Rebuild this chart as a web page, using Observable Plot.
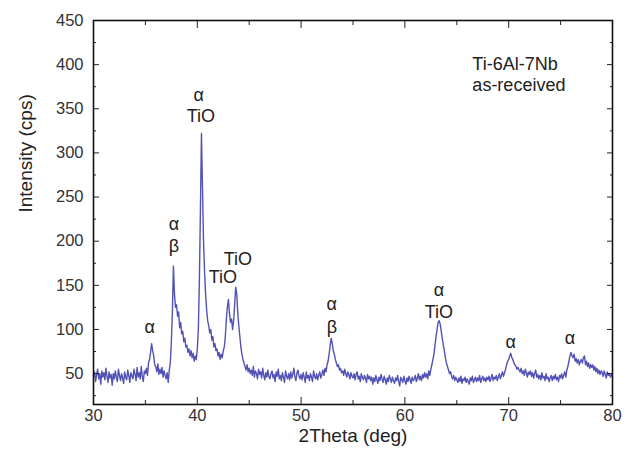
<!DOCTYPE html>
<html><head><meta charset="utf-8">
<script src="https://cdn.jsdelivr.net/npm/d3@7"></script>
<script src="https://cdn.jsdelivr.net/npm/@observablehq/plot@0.6"></script>
<style>body{margin:0;background:#fff;}</style>
</head><body><div id="chart"></div>
<script>
const thetaStart = 30, thetaStep = 0.1;
const intensity = [
47,52,41,49,55,44,50,38,53,46,
51,43,56,47,40,52,45,49,37,50,
44,53,46,41,55,48,42,50,45,39,
52,46,43,54,48,40,51,47,44,55,
49,42,57,46,51,44,58,47,41,53,
50,56,48,62,66,74,84,76,70,60,
58,52,61,49,55,50,57,46,53,48,
44,51,40,54,62,86,120,172,140,125,
128,115,120,102,108,95,98,86,90,80,
82,74,78,70,76,68,73,64,70,66,
78,100,155,235,322,260,200,165,140,122,
110,104,96,100,88,92,80,84,76,78,
70,74,66,72,68,76,80,92,112,126,
134,118,108,112,100,110,128,148,140,118,
104,92,80,72,66,62,58,54,60,52,
56,50,54,48,58,46,53,50,44,55,
49,52,45,56,48,43,51,46,54,47,
44,50,53,45,49,41,52,47,55,44,
48,42,51,46,40,53,47,44,50,43,
52,45,49,56,46,42,51,54,47,44,
49,43,51,46,40,52,45,48,42,50,
46,41,53,47,44,50,43,48,52,45,
49,54,48,56,52,60,64,72,82,90,
84,76,72,66,62,58,60,54,56,51,
53,48,55,50,46,52,49,44,51,47,
45,50,43,49,52,44,47,41,50,46,
43,48,45,40,49,44,47,42,46,38,
45,41,48,43,39,46,42,49,44,40,
47,43,38,45,41,48,44,40,46,42,
39,45,42,48,41,36,46,43,40,47,
42,38,45,41,47,43,39,46,42,44,
48,41,45,50,43,47,42,49,45,51,
46,50,44,53,48,55,60,66,72,82,
92,100,108,110,106,98,90,82,76,68,
62,58,54,50,52,47,44,48,42,46,
43,40,45,41,47,39,44,42,46,40,
44,41,38,45,42,47,40,43,46,41,
45,42,48,40,44,47,42,45,41,46,
43,47,41,45,49,42,46,44,48,42,
46,50,44,48,52,47,51,55,60,64,
66,70,73,68,66,62,60,58,55,57,
54,52,56,50,53,48,55,51,46,52,
49,53,47,51,45,50,54,46,49,44,
48,43,51,45,47,42,50,44,46,41,
45,48,42,47,44,49,43,46,41,48,
45,50,44,48,52,46,54,58,64,70,
74,70,68,72,64,67,62,66,60,64,
66,62,68,70,60,64,58,62,56,60,
57,60,54,58,52,56,50,54,49,53,
51,47,53,49,45,52,48,50,46,49,
47
];
const xMajor = [30,40,50,60,70,80];
const xMinor = [35,45,55,65,75];
const yMajor = [50,100,150,200,250,300,350,400,450];
const yMinor = [25,75,125,175,225,275,325,375,425];
const xTitle = ["2Theta (deg)"];
const yTitle = ["Intensity (cps)"];
const peakText = ["α","α","β","α","TiO","TiO","TiO","α","β","α","TiO","α","α"];
const peakX =    [35.42,37.74,37.74,40.14,40.34,43.9,42.46,52.96,52.96,63.27,63.27,70.2,75.9];
const peakY =    [102,219,194,365,341,180,159,129,102,144,120,86,90];
const noteText = ["Ti-6Al-7Nb","as-received"];
const noteX = [66.5,66.5];
const noteY = [401,377];

const data = intensity.map((v,i)=>({t: +(thetaStart + i*thetaStep).toFixed(2), v}));
const peaks = peakText.map((s,i)=>({s, x: peakX[i], y: peakY[i]}));
const notes = noteText.map((s,i)=>({s, x: noteX[i], y: noteY[i]}));

const font = "'Liberation Sans', Arial, sans-serif";
const chart = Plot.plot({
  width: 630, height: 458,
  marginLeft: 93, marginRight: 18, marginTop: 20, marginBottom: 54,
  style: {fontFamily: font, background: "#fff", color: "#222"},
  x: {domain: [30, 80]},
  y: {domain: [15, 450]},
  marks: [
    Plot.line(data, {x: "t", y: "v", stroke: "#3f3fae", strokeWidth: 1.4, strokeOpacity: 0.9}),
    Plot.axisX({ticks: xMajor, tickSize: -7, tickFormat: () => "", label: null}),
    Plot.axisX({ticks: xMinor, tickSize: -4, tickFormat: () => "", label: null}),
    Plot.axisX({anchor: "top", ticks: xMajor, tickSize: -7, tickFormat: () => "", label: null}),
    Plot.axisX({anchor: "top", ticks: xMinor, tickSize: -4, tickFormat: () => "", label: null}),
    Plot.axisY({ticks: yMajor, tickSize: -6, tickFormat: () => "", label: null}),
    Plot.axisY({ticks: yMinor, tickSize: -3, tickFormat: () => "", label: null}),
    Plot.axisY({anchor: "right", ticks: yMajor, tickSize: -6, tickFormat: () => "", label: null}),
    Plot.axisY({anchor: "right", ticks: yMinor, tickSize: -3, tickFormat: () => "", label: null}),
    Plot.frame({stroke: "#111", strokeWidth: 1.6}),
    Plot.text(xMajor, {x: d => d, text: d => String(d), frameAnchor: "bottom", dy: 16, fontSize: 16.5, fill: "#333"}),
    Plot.text(yMajor, {y: d => d, text: d => String(d), frameAnchor: "left", dx: -10, textAnchor: "end", fontSize: 16.5, fill: "#333"}),
    Plot.text(xTitle, {frameAnchor: "bottom", dy: 37, fontSize: 19, fill: "#222"}),
    Plot.text(yTitle, {frameAnchor: "left", dx: -68, rotate: -90, fontSize: 19, fill: "#222"}),
    Plot.text(peaks, {x: "x", y: "y", text: "s", fontSize: 18, fill: "#222"}),
    Plot.text(notes, {x: "x", y: "y", text: "s", fontSize: 18, fill: "#222", textAnchor: "start"})
  ]
});
document.getElementById("chart").appendChild(chart);
</script>
</body></html>
